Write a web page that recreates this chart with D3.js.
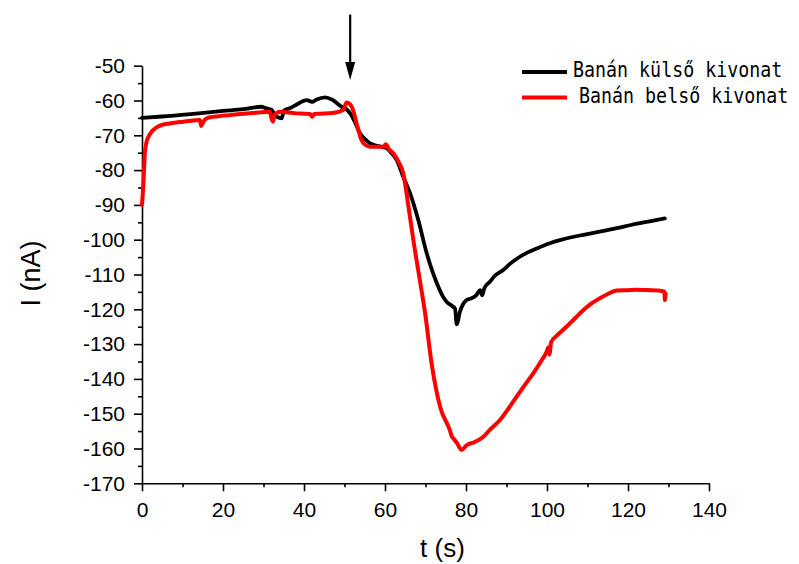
<!DOCTYPE html>
<html>
<head>
<meta charset="utf-8">
<script src="https://cdn.jsdelivr.net/npm/d3@7"></script>
<style>
  html, body { margin: 0; padding: 0; background: #fff; }
  svg { display: block; }
</style>
</head>
<body>
<svg id="chart" width="799" height="564"></svg>
<script>
// ---- data ----
const seriesNames = ["Banán külső kivonat", "Banán belső kivonat"];
const seriesColors = ["#000000", "#ff0000"];

const tBlack = [0, 5, 12, 20, 25, 29.5, 30.5, 31.5, 32, 33, 34.5, 35, 36.5, 38, 40.7, 42, 43, 45.2, 47, 49.3, 50.5, 51.4, 52.5, 53.8, 55, 56.3, 58, 60.4, 61.5, 62.9, 64.5, 66.2, 68.2, 70.3, 72.8, 74.4, 75.2, 76.5, 77.3, 77.7, 78.5, 80.2, 81, 82.5, 83.5, 84, 84.5, 85.9, 87, 89.2, 91, 93.3, 95, 97.5, 100.7, 103.2, 106, 109, 113, 117.2, 121, 125, 129.1];
const iBlack = [-65, -64.6, -63.9, -63, -62.5, -61.8, -62.2, -62.5, -62.7, -64.5, -65.1, -63, -62.2, -61.3, -59.9, -60.4, -59.8, -59.1, -59.8, -61.8, -62.5, -63.7, -66, -69.4, -71, -72.3, -73, -73.7, -75, -77.1, -81.9, -86.7, -94.3, -103.9, -112.5, -116.5, -117.8, -119, -119.8, -124.3, -120.7, -117.3, -117, -116, -114.5, -116, -114, -112.1, -110.5, -108.7, -106.8, -104.9, -103.8, -102.5, -101, -100.1, -99.3, -98.6, -97.7, -96.7, -95.7, -94.8, -93.9];

const tRed = [0, 0.3, 0.7, 1.1, 1.6, 2.5, 3.6, 5, 6.9, 8.5, 10.2, 12, 14.3, 14.6, 15, 15.5, 16.8, 19, 21.7, 25, 28.3, 31.6, 31.9, 32.3, 32.8, 34.1, 38, 40, 41.5, 42, 42.5, 44, 47, 49.7, 50.5, 51.8, 53, 54.2, 55.2, 56.3, 58, 59.6, 60.2, 61, 62.1, 63.3, 64.5, 65.8, 67, 68.6, 69.9, 71.5, 73.6, 76, 76.5, 76.9, 77.8, 78.9, 80.2, 82, 84.3, 86, 88.4, 90.5, 92.5, 94.5, 96.6, 98.5, 99.9, 100.3, 100.6, 101, 102.5, 104.8, 107, 109, 111, 113.1, 115, 117.2, 120, 122, 125.4, 127.5, 129, 129.1, 129.3];
const iRed = [-90, -84.8, -75.2, -72, -70.4, -68.8, -67.7, -67, -66.6, -66.3, -66.1, -65.8, -65.6, -67.3, -66.5, -65.5, -64.8, -64.5, -64.2, -63.8, -63.5, -63.2, -64.8, -66.1, -64, -63.2, -63.7, -63.8, -63.9, -64.7, -63.9, -63.8, -63.6, -62.7, -60.6, -61.8, -66.6, -71.4, -72.8, -73.3, -73.3, -73.3, -72.6, -74, -75.2, -77.5, -80.9, -90.5, -100.1, -111.6, -121.1, -135.5, -148, -154.7, -156.5, -157.1, -158.5, -160.4, -159, -158.2, -156.6, -154.5, -151.8, -148.5, -145.1, -141.8, -138.4, -135, -132.2, -131, -133, -129.5, -127.5, -125, -122.5, -120.2, -118.3, -116.8, -115.6, -114.6, -114.5, -114.4, -114.5, -114.6, -114.9, -117.3, -115.5];

const xTicks = [0, 20, 40, 60, 80, 100, 120, 140];
const xMinorTicks = [10, 30, 50, 70, 90, 110, 130];
const yTicks = [-50, -60, -70, -80, -90, -100, -110, -120, -130, -140, -150, -160, -170];
const yMinorTicks = [-55, -65, -75, -85, -95, -105, -115, -125, -135, -145, -155, -165];

// arrow marking injection (t, from I, to I)
const arrowT = 51.4, arrowFromI = -35.3, arrowToI = -54.1;

// ---- layout ----
const svg = d3.select("#chart");
const mLeft = 142, mRight = 709, mTop = 65.7, mBottom = 483.3;

const x = d3.scaleLinear().domain([0, 140]).range([mLeft, mRight]);
const y = d3.scaleLinear().domain([-170, -50]).range([mBottom, mTop]);

const tickFont = "'Liberation Sans', Arial, sans-serif";

function styleAxis(g) {
  g.selectAll("path.domain").attr("stroke", "#000").attr("stroke-width", 1.6);
  g.selectAll(".tick line").attr("stroke", "#000").attr("stroke-width", 1.6);
  g.selectAll(".tick text").attr("fill", "#000").style("font-family", tickFont).style("font-size", "21px");
}

const xAxis = svg.append("g").attr("transform", `translate(0,${mBottom})`)
  .call(d3.axisBottom(x).tickValues(xTicks).tickSize(8).tickSizeOuter(0).tickPadding(11).tickFormat(d3.format("d")));
styleAxis(xAxis);
const xMinor = svg.append("g").attr("transform", `translate(0,${mBottom})`)
  .call(d3.axisBottom(x).tickValues(xMinorTicks).tickSize(4).tickSizeOuter(0).tickFormat(""));
styleAxis(xMinor);
xMinor.select("path.domain").remove();

const yAxis = svg.append("g").attr("transform", `translate(${mLeft},0)`)
  .call(d3.axisLeft(y).tickValues(yTicks).tickSize(8).tickSizeOuter(0).tickPadding(9).tickFormat(d => String(d)));
styleAxis(yAxis);
const yMinor = svg.append("g").attr("transform", `translate(${mLeft},0)`)
  .call(d3.axisLeft(y).tickValues(yMinorTicks).tickSize(4).tickSizeOuter(0).tickFormat(""));
styleAxis(yMinor);
yMinor.select("path.domain").remove();

// axis titles
svg.append("text")
  .attr("x", (mLeft + mRight) / 2 + 17).attr("y", 557)
  .attr("text-anchor", "middle")
  .style("font-family", tickFont).style("font-size", "26px")
  .text("t (s)");

svg.append("text")
  .attr("transform", `translate(40,${(mTop + mBottom) / 2 - 1}) rotate(-90)`)
  .attr("text-anchor", "middle")
  .style("font-family", tickFont).style("font-size", "27px")
  .text("I (nA)");

// lines
const line = d3.line().x(d => x(d[0])).y(d => y(d[1])).curve(d3.curveMonotoneX);
const blackData = tBlack.map((t, i) => [t, iBlack[i]]);
const redData = tRed.map((t, i) => [t, iRed[i]]);

svg.append("path").datum(blackData)
  .attr("d", line).attr("fill", "none")
  .attr("stroke", seriesColors[0]).attr("stroke-width", 3.8)
  .attr("stroke-linejoin", "round").attr("stroke-linecap", "round");

svg.append("path").datum(redData)
  .attr("d", line).attr("fill", "none")
  .attr("stroke", seriesColors[1]).attr("stroke-width", 4)
  .attr("stroke-linejoin", "round").attr("stroke-linecap", "round");

// arrow
const ax = x(arrowT), ay1 = y(arrowFromI), ay2 = y(arrowToI);
svg.append("line").attr("x1", ax).attr("x2", ax).attr("y1", ay1).attr("y2", ay2 - 16)
  .attr("stroke", "#000").attr("stroke-width", 2.2);
svg.append("path")
  .attr("d", `M${ax - 5},${ay2 - 18} L${ax + 5},${ay2 - 18} L${ax},${ay2} Z`)
  .attr("fill", "#000");

// legend
const legendFont = "'DejaVu Sans Mono', monospace";
const legend = [
  { name: seriesNames[0], color: seriesColors[0], ly: 72, tx: 573, ty: 77 },
  { name: seriesNames[1], color: seriesColors[1], ly: 97.5, tx: 579, ty: 103 }
];
legend.forEach(l => {
  svg.append("line").attr("x1", 522).attr("x2", 567).attr("y1", l.ly).attr("y2", l.ly)
    .attr("stroke", l.color).attr("stroke-width", 4);
  svg.append("text")
    .attr("transform", `translate(${l.tx},${l.ty}) scale(1,1.15)`)
    .style("font-family", legendFont).style("font-size", "18.3px")
    .attr("fill", "#000")
    .text(l.name);
});
</script>
</body>
</html>
